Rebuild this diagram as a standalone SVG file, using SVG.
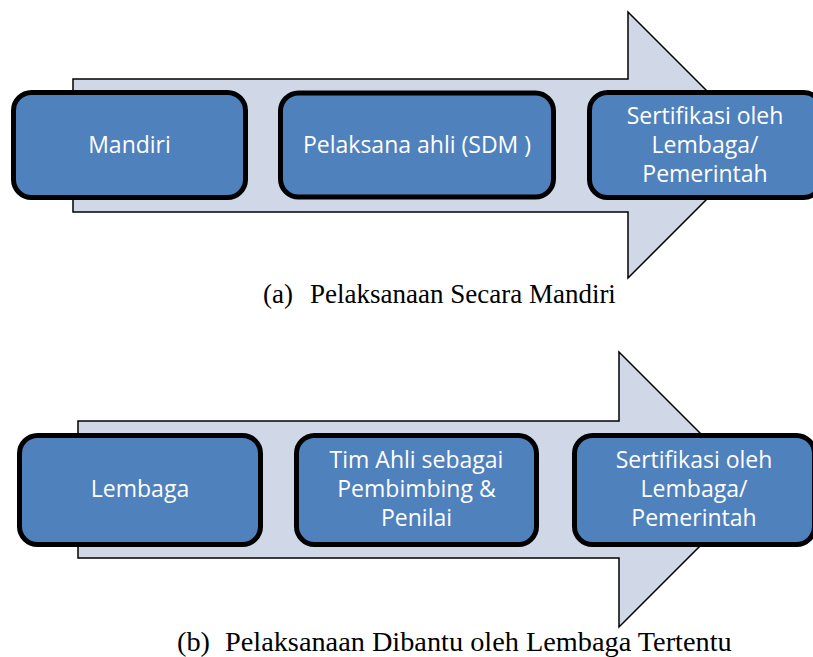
<svg xmlns="http://www.w3.org/2000/svg" width="813" height="657" viewBox="0 0 813 657">
<style>
.arrow{fill:#D0D8E8;stroke:#000;stroke-width:1.5;stroke-linejoin:miter}
.box{fill:#4F81BD;stroke:#000;stroke-width:5}
.lbl{font-family:"Open Sans","Noto Sans",sans-serif;font-size:23px;fill:#fff;text-anchor:middle}
.cap{font-family:"Liberation Serif","Times New Roman",serif;fill:#000}
.ca{font-size:27px}
.cb{font-size:28.3px}
</style>
<rect width="813" height="657" fill="#fff"/>
<g id="connectors">
<path id="arrow-a" class="arrow" d="M73,79 H628 V12 L761,145 L628,278 V212 H73 Z"/>
<path id="arrow-b" class="arrow" d="M78,421 H619 V352 L756.5,489.5 L619,627 V558 H78 Z"/>
</g>
<g id="a1">
<rect class="box" x="13.5" y="92.5" width="232" height="105" rx="18"/>
<text class="lbl" x="129.5" y="153">Mandiri</text>
</g>
<g id="a2">
<rect class="box" x="280.5" y="93" width="273" height="104" rx="18"/>
<text class="lbl" x="417" y="153">Pelaksana ahli (SDM )</text>
</g>
<g id="a3">
<rect class="box" x="589.5" y="92.5" width="232" height="105" rx="18"/>
<text class="lbl" x="705" y="124">Sertifikasi oleh</text>
<text class="lbl" x="705" y="153">Lembaga/</text>
<text class="lbl" x="705" y="182">Pemerintah</text>
</g>
<g id="b1">
<rect class="box" x="19.5" y="435.5" width="241" height="109" rx="18"/>
<text class="lbl" x="140" y="497">Lembaga</text>
</g>
<g id="b2">
<rect class="box" x="296.5" y="435.5" width="240" height="109" rx="18"/>
<text class="lbl" x="416.5" y="468">Tim Ahli sebagai</text>
<text class="lbl" x="416.5" y="497">Pembimbing &amp;</text>
<text class="lbl" x="416.5" y="526">Penilai</text>
</g>
<g id="b3">
<rect class="box" x="574.5" y="435.5" width="240" height="109" rx="18"/>
<text class="lbl" x="694" y="468">Sertifikasi oleh</text>
<text class="lbl" x="694" y="497">Lembaga/</text>
<text class="lbl" x="694" y="526">Pemerintah</text>
</g>
<g id="captions">
<text class="cap ca" x="263" y="303">(a)</text>
<text class="cap ca" x="310" y="303">Pelaksanaan Secara Mandiri</text>
<text class="cap cb" x="177" y="651">(b)</text>
<text class="cap cb" x="225" y="651">Pelaksanaan Dibantu oleh Lembaga Tertentu</text>
</g>
</svg>
